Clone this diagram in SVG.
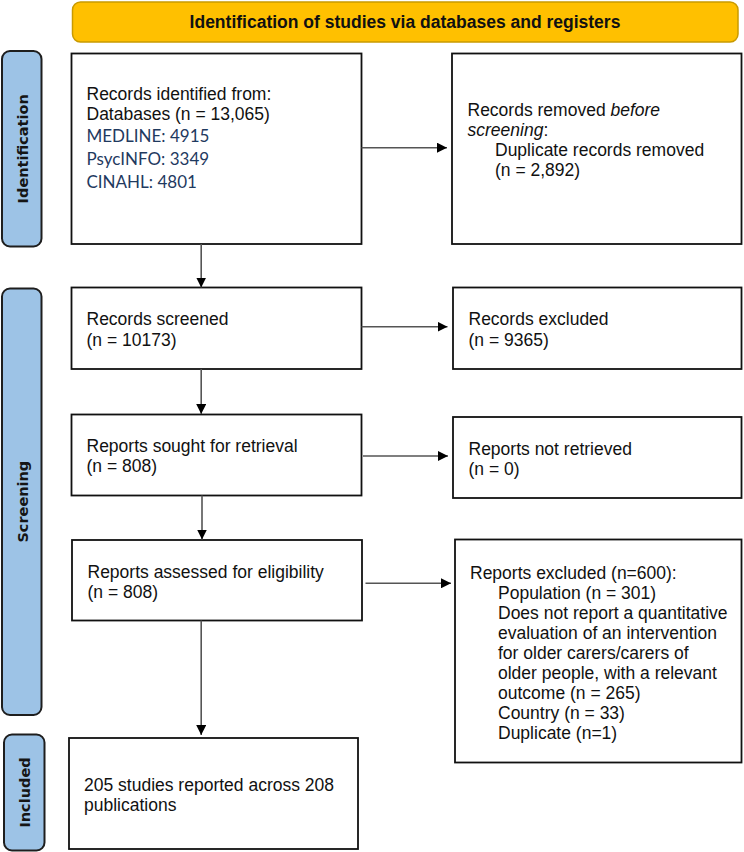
<svg xmlns="http://www.w3.org/2000/svg" width="744" height="852" viewBox="0 0 744 852">
<style>
.box{fill:#fff;stroke:#111;stroke-width:1.8}
.side{fill:#9DC3E6;stroke:#1e1e1e;stroke-width:2}
.t{font-family:"Liberation Sans",Arial,sans-serif;font-size:17.5px;fill:#111}
.c{font-family:Lato,"Liberation Sans",sans-serif;font-size:17px;fill:#1F3A5F}
.sl{font-family:"DejaVu Sans",sans-serif;font-weight:bold;font-size:14.5px;fill:#151515}
.ln{stroke:#555;stroke-width:1.6;fill:none}
</style>
<defs>
<marker id="ah" viewBox="0 0 10 10" refX="10" refY="5" markerWidth="10" markerHeight="10" markerUnits="userSpaceOnUse" orient="auto">
<path d="M0,0 L10,5 L0,10 Z" fill="#000"/>
</marker>
</defs>
<g id="banner">
<rect x="72.5" y="2" width="665.5" height="40" rx="8" fill="#FFC000" stroke="#C99A00" stroke-width="1.5"/>
<text x="405" y="27.5" text-anchor="middle" font-family="Liberation Sans,Arial,sans-serif" font-weight="bold" font-size="17.5" fill="#111">Identification of studies via databases and registers</text>
</g>
<g id="label-identification">
<rect class="side" x="2" y="51" width="39.5" height="195.5" rx="8"/>
<text class="sl" transform="translate(27.5,148.8) rotate(-90)" text-anchor="middle">Identification</text>
</g>
<g id="label-screening">
<rect class="side" x="2" y="288.5" width="39.5" height="426.5" rx="8"/>
<text class="sl" transform="translate(27.5,501.7) rotate(-90)" text-anchor="middle">Screening</text>
</g>
<g id="label-included">
<rect class="side" x="4" y="734.5" width="40.5" height="116" rx="8"/>
<text class="sl" transform="translate(30,792.5) rotate(-90)" text-anchor="middle">Included</text>
</g>
<g id="records-identified">
<rect class="box" x="71.5" y="53.5" width="290" height="190.5"/>
<text class="t" x="86.5" y="100">Records identified from:</text>
<text class="t" x="86.5" y="120">Databases (n = 13,065)</text>
<text class="c" x="86.5" y="142">MEDLINE: 4915</text>
<text class="c" x="86.5" y="165">PsycINFO: 3349</text>
<text class="c" x="86.5" y="188">CINAHL: 4801</text>
</g>
<g id="records-removed">
<rect class="box" x="452" y="53.5" width="289.5" height="190.5"/>
<text class="t" x="467.5" y="115.5">Records removed <tspan font-style="italic">before</tspan></text>
<text class="t" x="467.5" y="135.5"><tspan font-style="italic">screening</tspan>:</text>
<text class="t" x="495" y="155.5">Duplicate records removed</text>
<text class="t" x="495" y="175.5">(n = 2,892)</text>
</g>
<g id="records-screened">
<rect class="box" x="71.5" y="287.5" width="290" height="81.5"/>
<text class="t" x="86.5" y="325">Records screened</text>
<text class="t" x="86.5" y="345.5">(n = 10173)</text>
</g>
<g id="records-excluded">
<rect class="box" x="453" y="287.5" width="288.5" height="81.5"/>
<text class="t" x="468.5" y="325">Records excluded</text>
<text class="t" x="468.5" y="345.5">(n = 9365)</text>
</g>
<g id="reports-sought">
<rect class="box" x="71.5" y="414.5" width="290" height="81"/>
<text class="t" x="86.5" y="452">Reports sought for retrieval</text>
<text class="t" x="86.5" y="472">(n = 808)</text>
</g>
<g id="reports-not-retrieved">
<rect class="box" x="453" y="417" width="288.5" height="81"/>
<text class="t" x="468.5" y="454.5">Reports not retrieved</text>
<text class="t" x="468.5" y="475">(n = 0)</text>
</g>
<g id="reports-assessed">
<rect class="box" x="72" y="540" width="290" height="80.5"/>
<text class="t" x="87.5" y="578">Reports assessed for eligibility</text>
<text class="t" x="87.5" y="598">(n = 808)</text>
</g>
<g id="reports-excluded">
<rect class="box" x="455" y="539.5" width="286.5" height="223"/>
<text class="t" x="470" y="578.5">Reports excluded (n=600):</text>
<text class="t" x="498" y="598.5">Population (n = 301)</text>
<text class="t" x="498" y="618.5">Does not report a quantitative</text>
<text class="t" x="498" y="638.5">evaluation of an intervention</text>
<text class="t" x="498" y="658.5">for older carers/carers of</text>
<text class="t" x="498" y="678.5">older people, with a relevant</text>
<text class="t" x="498" y="698.5">outcome (n = 265)</text>
<text class="t" x="498" y="718.5">Country (n = 33)</text>
<text class="t" x="498" y="738.5">Duplicate (n=1)</text>
</g>
<g id="included-studies">
<rect class="box" x="69" y="738" width="289" height="111"/>
<text class="t" x="84" y="790.5">205 studies reported across 208</text>
<text class="t" x="84" y="810.5">publications</text>
</g>
<g id="connectors">
<line class="ln" x1="361.5" y1="147.7" x2="447" y2="147.7" marker-end="url(#ah)"/>
<line class="ln" x1="201.2" y1="244" x2="201.2" y2="287.5" marker-end="url(#ah)"/>
<line class="ln" x1="361.5" y1="326.7" x2="447.5" y2="326.7" marker-end="url(#ah)"/>
<line class="ln" x1="201.2" y1="369" x2="201.2" y2="414" marker-end="url(#ah)"/>
<line class="ln" x1="363" y1="456" x2="448" y2="456" marker-end="url(#ah)"/>
<line class="ln" x1="202" y1="495.5" x2="202" y2="539.5" marker-end="url(#ah)"/>
<line class="ln" x1="365.5" y1="583.3" x2="451" y2="583.3" marker-end="url(#ah)"/>
<line class="ln" x1="201.2" y1="620.5" x2="201.2" y2="735" marker-end="url(#ah)"/>
</g>
</svg>
